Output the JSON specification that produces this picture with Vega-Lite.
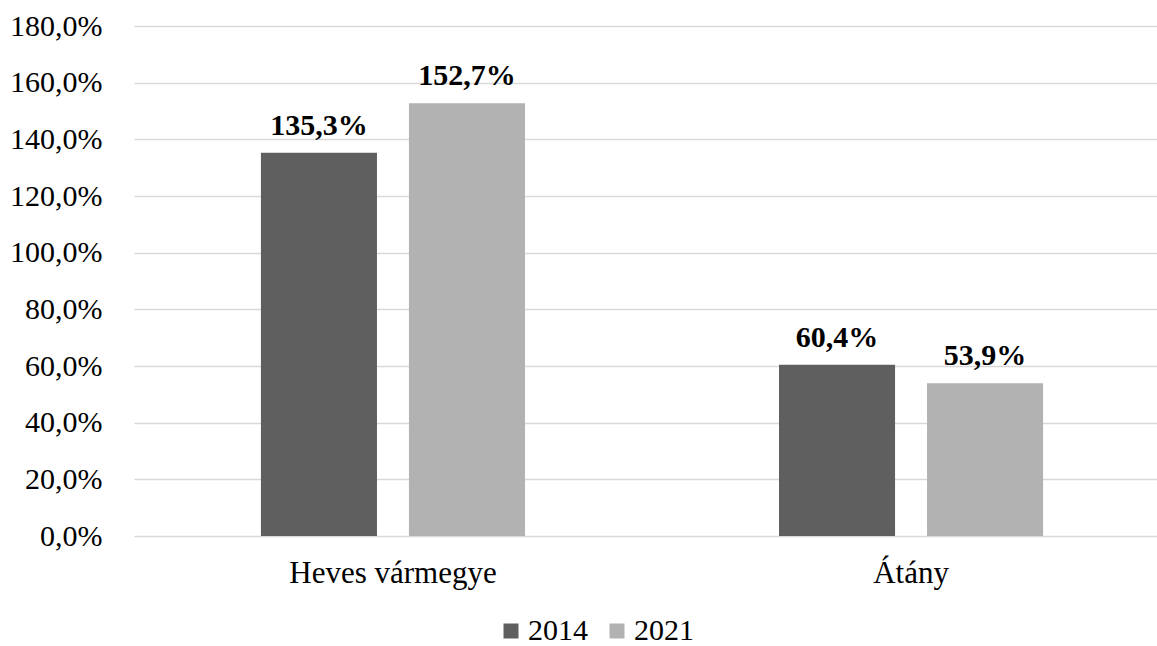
{
  "$schema": "https://vega.github.io/schema/vega-lite/v6.json",
  "width": 1023,
  "height": 510,
  "autosize": {"type": "none"},
  "padding": {"left": 134, "top": 26, "right": 0, "bottom": 110},
  "background": "white",
  "config": {
    "locale": {"number": {"decimal": ",", "thousands": " ", "grouping": [3], "currency": ["", " Ft"]}},
    "font": "Liberation Serif",
    "view": {"stroke": null}
  },
  "data": {
    "values": [
      {"terulet": "Heves vármegye", "ev": "2014", "arany": 1.353},
      {"terulet": "Heves vármegye", "ev": "2021", "arany": 1.527},
      {"terulet": "Átány", "ev": "2014", "arany": 0.604},
      {"terulet": "Átány", "ev": "2021", "arany": 0.539}
    ]
  },
  "encoding": {
    "x": {
      "field": "terulet", "type": "nominal", "sort": ["Heves vármegye", "Átány"],
      "scale": {"range": [0, 1036], "paddingInner": 0.4903, "paddingOuter": 0.245},
      "axis": {"title": null, "labelAngle": 0, "domain": false, "ticks": false, "labelFont": "Liberation Serif", "labelFontSize": 31, "labelLimit": 0, "labelColor": "#000000", "labelPadding": 22, "grid": false}
    },
    "xOffset": {"field": "ev", "type": "nominal", "scale": {"paddingInner": 0.216, "paddingOuter": 0}},
    "y": {
      "field": "arany", "type": "quantitative",
      "scale": {"domain": [0, 1.8], "nice": false},
      "axis": {"title": null, "format": ".1%", "values": [0, 0.2, 0.4, 0.6, 0.8, 1.0, 1.2, 1.4, 1.6, 1.8], "domain": false, "ticks": false, "labelFont": "Liberation Serif", "labelFontSize": 30, "labelColor": "#000000", "labelPadding": 32, "gridColor": "#d9d9d9", "gridWidth": 1.5}
    }
  },
  "layer": [
    {
      "mark": {"type": "bar"},
      "encoding": {
        "color": {
          "field": "ev", "type": "nominal",
          "scale": {"domain": ["2014", "2021"], "range": ["#5f5f5f", "#b2b2b2"]},
          "legend": {"title": null, "orient": "none", "legendX": 362, "legendY": 590, "direction": "horizontal", "symbolType": "square", "symbolSize": 225, "symbolStrokeWidth": 0, "labelFont": "Liberation Serif", "labelFontSize": 30, "labelColor": "#000000", "columnPadding": 14, "labelOffset": 2}
        }
      }
    },
    {
      "mark": {"type": "text", "baseline": "alphabetic", "dy": -18, "fontWeight": "bold", "fontSize": 30, "font": "Liberation Serif", "color": "#000000"},
      "encoding": {
        "text": {"field": "arany", "type": "quantitative", "format": ".1%"}
      }
    }
  ]
}
